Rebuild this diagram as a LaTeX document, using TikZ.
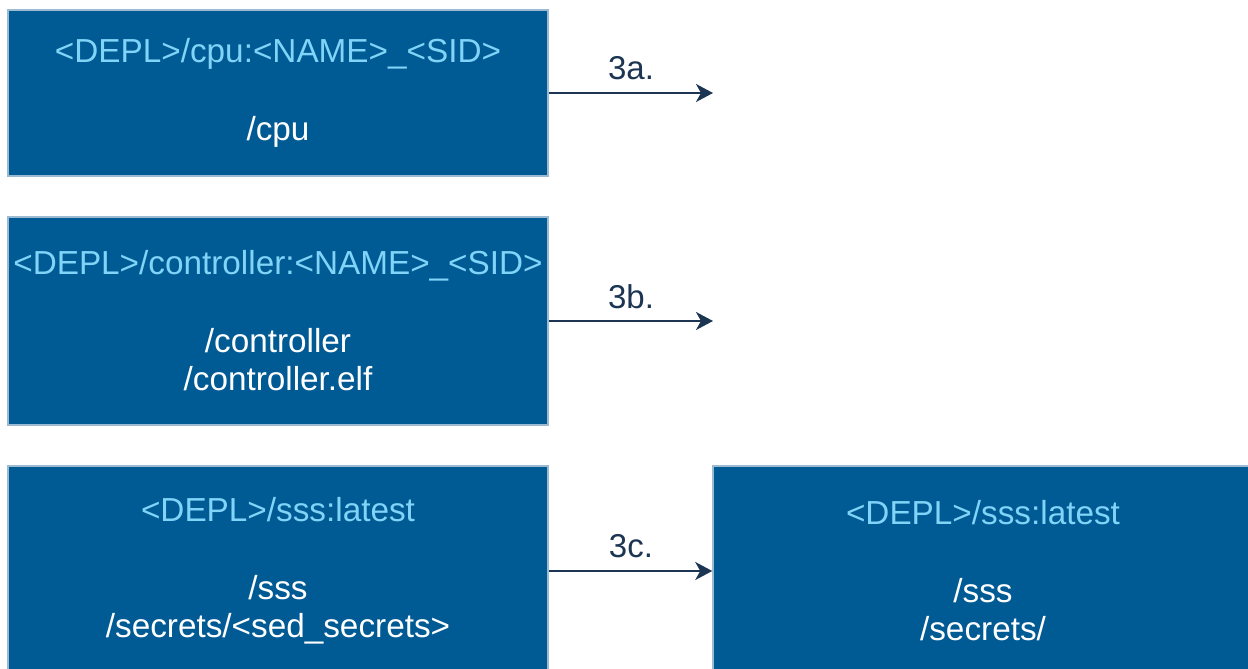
\documentclass[tikz,border=0pt]{standalone}
\usepackage{fontspec}
\setmainfont{Liberation Sans}
\usetikzlibrary{arrows.meta}
\definecolor{boxfill}{HTML}{005A94}
\definecolor{boxedge}{HTML}{9DBAD3}
\definecolor{titlec}{HTML}{80D4F8}
\definecolor{arrowc}{HTML}{1C3553}
\tikzset{
  box/.style={draw=boxedge, line width=1.5pt, fill=boxfill, text=white, align=center,
    inner sep=0pt, minimum width=540pt, font=\fontsize{33.3}{38.5}\selectfont},
  link/.style={draw=arrowc, line width=2pt, -{Stealth[length=17pt,width=18pt,inset=5pt]}},
  lbl/.style={text=arrowc, font=\fontsize{33}{37}\selectfont, inner sep=0pt}
}
\begin{document}
\begin{tikzpicture}[x=1pt,y=-1pt]
\clip (0,0) rectangle (1248,669);
\fill[white] (0,0) rectangle (1248,669);
\node[box, minimum height=166pt] (b1) at (278,93)
  {\textcolor{titlec}{<DEPL>/cpu:<NAME>\_<SID>}\\[39pt] /cpu};
\node[box, minimum height=208pt] (b2) at (278,321)
  {\textcolor{titlec}{<DEPL>/controller:<NAME>\_<SID>}\\[39pt] /controller\\ /controller.elf};
\node[box, minimum height=210pt] (b3) at (278,571)
  {\textcolor{titlec}{<DEPL>/sss:latest}\\[39pt] /sss\\ /secrets/<sed\_secrets>};
\node[box, minimum height=210pt] (b4) at (983,571)
  {\textcolor{titlec}{<DEPL>/sss:latest}\\[39pt] /sss\\ /secrets/};
\coordinate (e1) at (713,93);
\coordinate (e2) at (713,321);
\draw[link] (b1.east) -- (e1);
\draw[link] (b2.east) -- (e2);
\draw[link] (b3.east) -- (b4.west);
\node[lbl] (l1) at (631,68) {3a.};
\node[lbl] (l2) at (631,297) {3b.};
\node[lbl] (l3) at (631,546) {3c.};
\end{tikzpicture}
\end{document}
